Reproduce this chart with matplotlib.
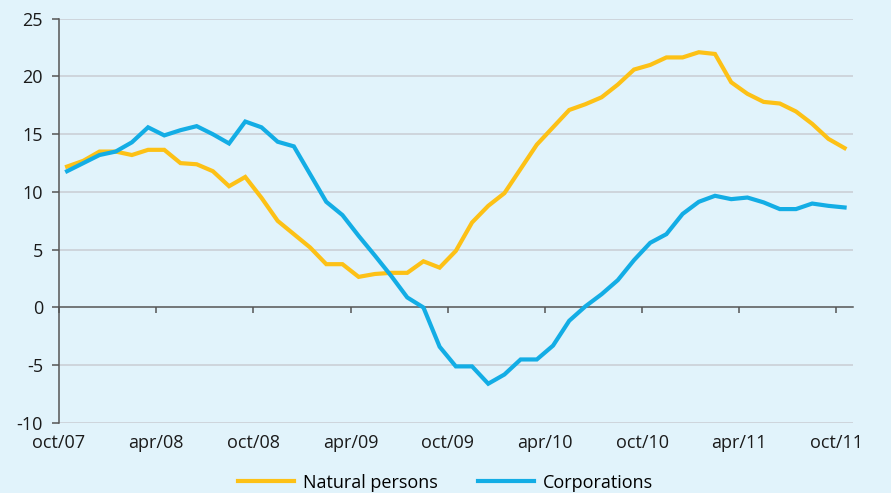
import matplotlib
matplotlib.use('Agg')
import matplotlib.pyplot as plt
import numpy as np

# monthly data, oct/07 .. oct/11 (49 months)
natural_persons = [
    12.2, 12.7, 13.5, 13.5, 13.2, 13.65, 13.65, 12.5, 12.4, 11.8,
    10.5, 11.3, 9.5, 7.5, 6.35, 5.2, 3.75, 3.75, 2.65, 2.9,
    3.0, 3.0, 4.0, 3.45, 4.9, 7.36, 8.8, 9.9, 12.0, 14.1,
    15.6, 17.1, 17.6, 18.2, 19.3, 20.6, 21.0, 21.65, 21.65, 22.1,
    21.95, 19.5, 18.5, 17.8, 17.66, 16.97, 15.9, 14.6, 13.8,
]
corporations = [
    11.8, 12.5, 13.2, 13.5, 14.3, 15.6, 14.9, 15.35, 15.7, 15.0,
    14.2, 16.1, 15.6, 14.35, 13.95, 11.55, 9.15, 8.0, 6.2, 4.5,
    2.75, 0.87, 0.0, -3.4, -5.1, -5.1, -6.6, -5.8, -4.5, -4.5,
    -3.3, -1.15, 0.1, 1.15, 2.37, 4.1, 5.6, 6.35, 8.1, 9.15,
    9.67, 9.38, 9.52, 9.1, 8.52, 8.52, 9.0, 8.8, 8.66,
]
tick_labels = ['oct/07', 'apr/08', 'oct/08', 'apr/09', 'oct/09',
               'apr/10', 'oct/10', 'apr/11', 'oct/11']

BG = '#e1f3fb'
C_NAT = '#fdc116'
C_CORP = '#13ade5'
C_GRID = '#c9cdd3'
C_AXIS = '#555555'

plt.rcParams['font.family'] = ['Open Sans', 'DejaVu Sans']
plt.rcParams['axes.unicode_minus'] = False

fig = plt.figure(figsize=(8.91, 4.93), dpi=100)
fig.patch.set_facecolor(BG)
ax = fig.add_axes([0.0662, 0.142, 0.8908, 0.820])
ax.set_facecolor(BG)

x = np.arange(len(natural_persons))
ax.plot(x, natural_persons, color=C_NAT, lw=3, label='Natural persons',
        solid_joinstyle='miter', zorder=3)
ax.plot(x, corporations, color=C_CORP, lw=3, label='Corporations',
        solid_joinstyle='miter', zorder=3)

ax.set_xlim(-0.5, len(x) - 0.5)
ax.set_ylim(-10, 25)
ax.set_yticks(np.arange(-10, 26, 5))
for v in np.arange(-10, 26, 5):
    if v != 0:
        ax.axhline(v, color=C_GRID, lw=1.1, zorder=1)

for s in ['top', 'right']:
    ax.spines[s].set_visible(False)
ax.spines['left'].set_color(C_AXIS)
ax.spines['left'].set_linewidth(1.1)
ax.spines['bottom'].set_position(('data', 0))
ax.spines['bottom'].set_color(C_AXIS)
ax.spines['bottom'].set_linewidth(1.1)

ticks = np.arange(-0.5, len(x) - 1, 6)
ax.set_xticks(ticks)
ax.tick_params(axis='x', direction='out', length=4.5, width=1.1,
               color=C_AXIS, labelbottom=False)
ax.tick_params(axis='y', direction='out', length=5, width=1.1,
               color=C_AXIS, labelsize=13, pad=6.5, labelcolor='#1a1a1a')

# labels at the bottom of the plot area
sec = ax.secondary_xaxis(0)
sec.set_xticks(ticks)
sec.set_xticklabels(tick_labels)
sec.spines['bottom'].set_visible(False)
sec.tick_params(length=0, labelsize=13, pad=8, labelcolor='#1a1a1a')

fig.legend(loc='lower center', ncol=2, frameon=False, fontsize=13,
           handlelength=3.1, handletextpad=0.5, columnspacing=2.2,
           bbox_to_anchor=(0.5, -0.03))

fig.savefig('out.png', dpi=100, facecolor=BG)
